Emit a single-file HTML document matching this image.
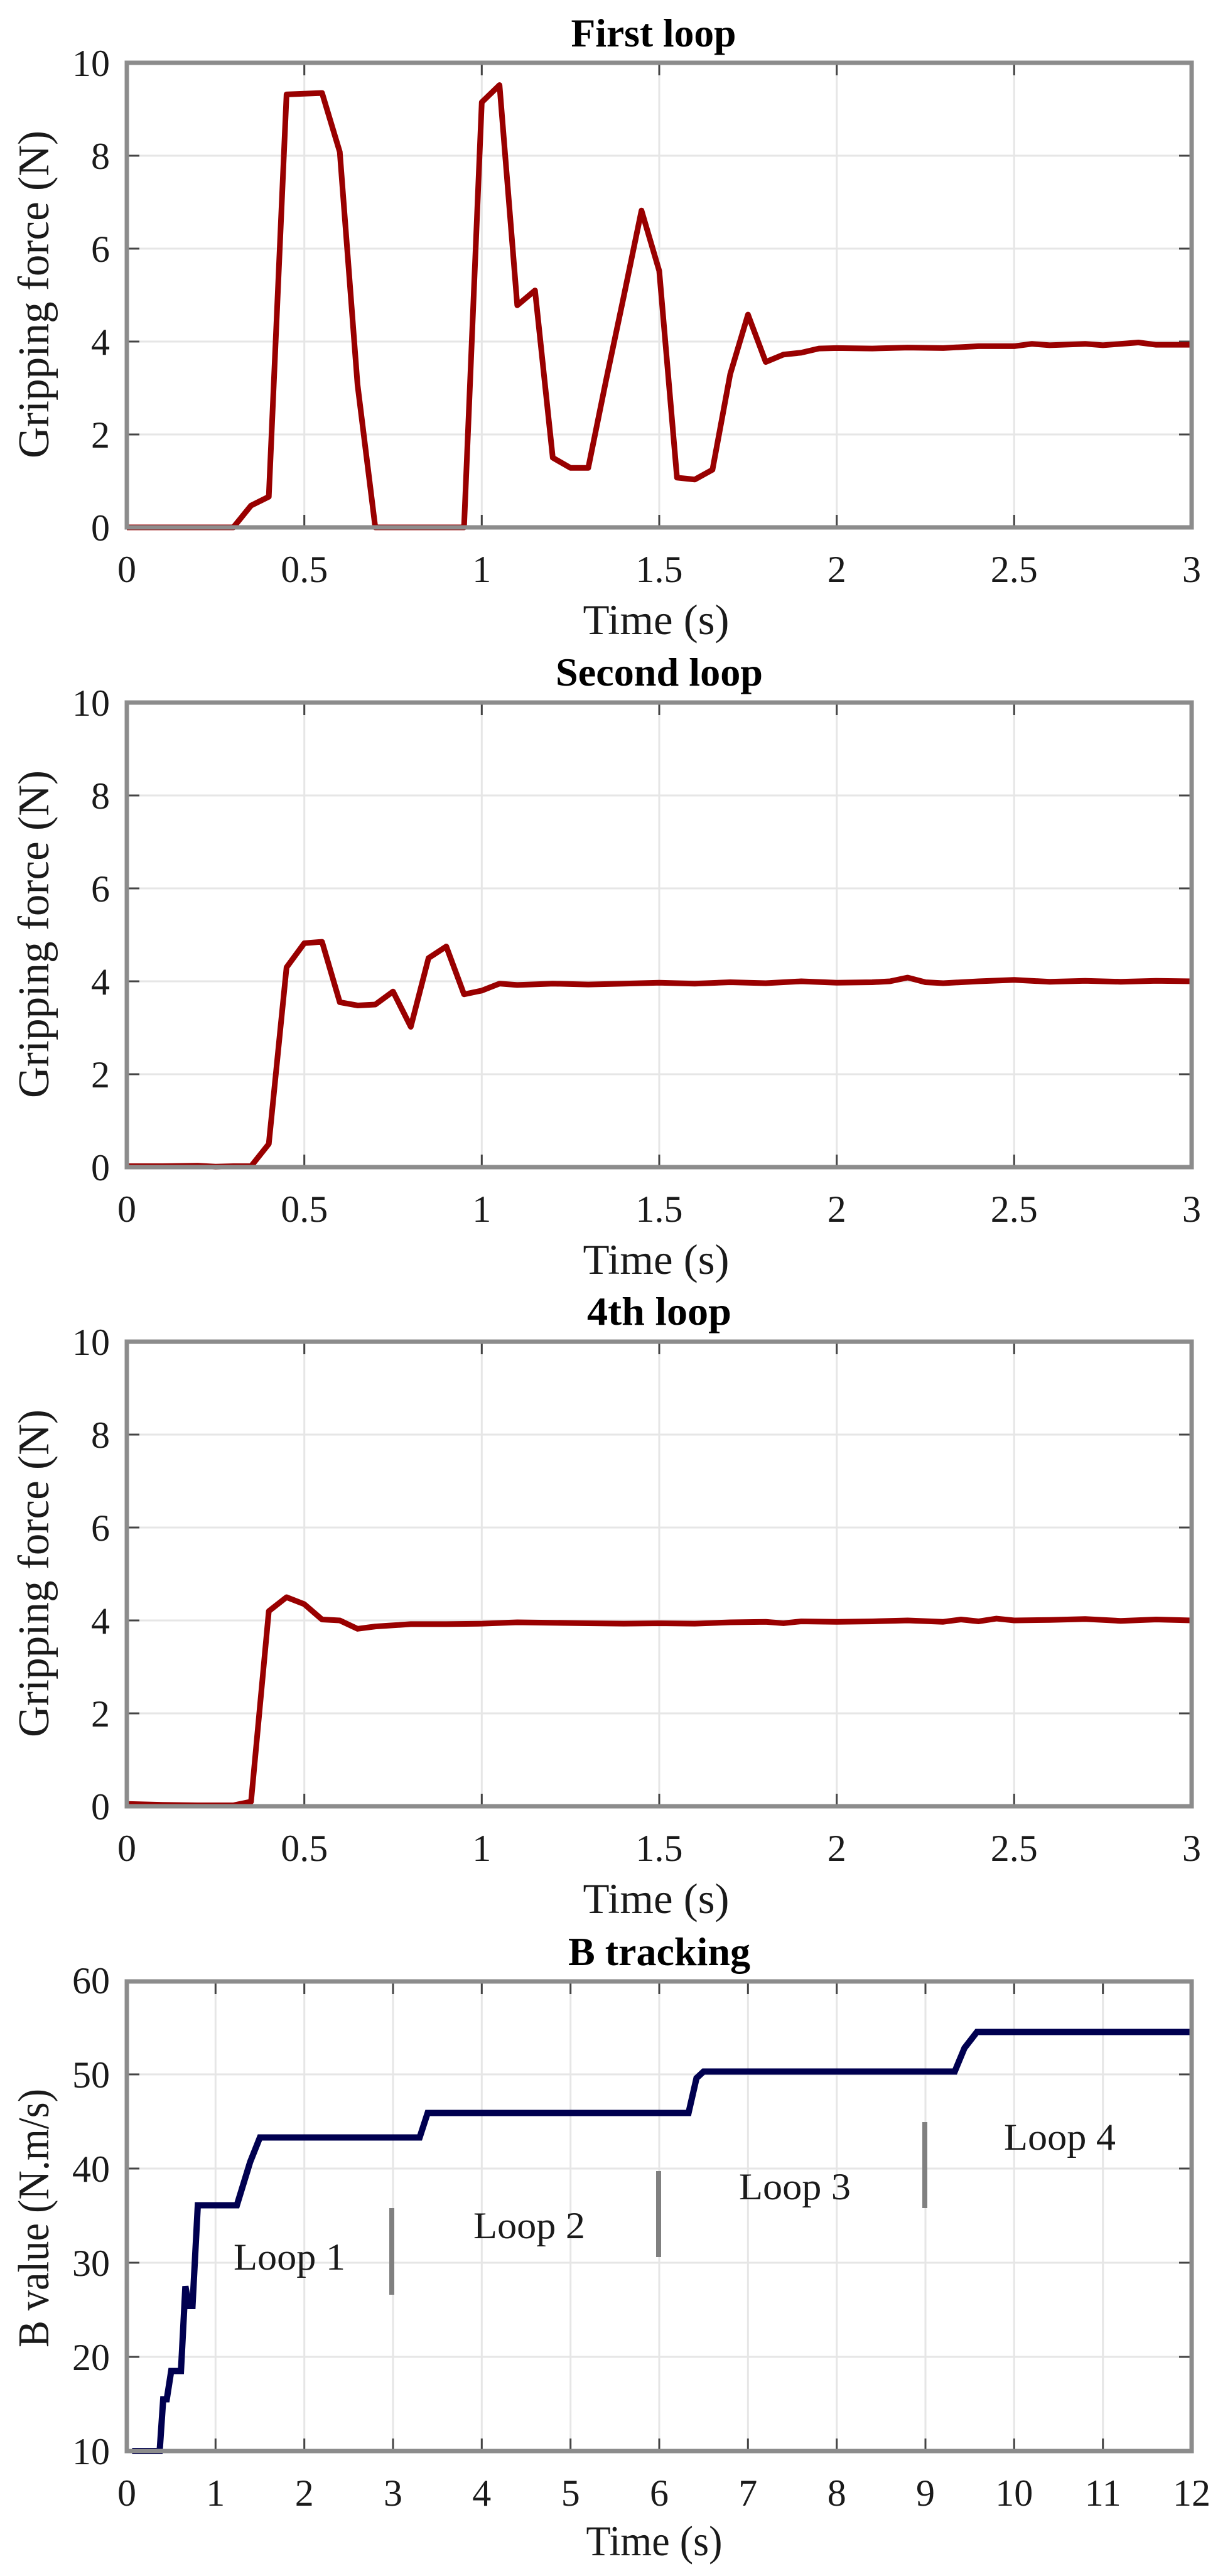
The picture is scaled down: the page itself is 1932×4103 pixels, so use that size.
<!DOCTYPE html>
<html><head><meta charset="utf-8">
<style>
html,body{margin:0;padding:0;background:#fff;}
svg{display:block;}
text{font-family:"Liberation Serif",serif;fill:#1a1a1a;}
.tk{font-size:60px;}
.ttl{font-size:64px;font-weight:bold;fill:#000;}
.lb{font-size:68px;}
.yl{font-size:70px;}
.grid{stroke:#e6e6e6;stroke-width:3;}
.frame{fill:none;stroke:#8c8c8c;stroke-width:7;}
.tick{stroke:#444;stroke-width:3;}
.red{fill:none;stroke:#990000;stroke-width:9;stroke-linejoin:round;}
.blue{fill:none;stroke:#000050;stroke-width:10;stroke-linejoin:miter;}
</style></head>
<body>
<svg width="1932" height="4103" viewBox="0 0 1932 4103" xmlns="http://www.w3.org/2000/svg">

<!-- ============ PANEL 1 ============ -->
<g>
<g class="grid">
<line x1="484.7" y1="100" x2="484.7" y2="840"/><line x1="767.3" y1="100" x2="767.3" y2="840"/><line x1="1050" y1="100" x2="1050" y2="840"/><line x1="1332.7" y1="100" x2="1332.7" y2="840"/><line x1="1615.3" y1="100" x2="1615.3" y2="840"/>
<line x1="202" y1="692" x2="1898" y2="692"/><line x1="202" y1="544" x2="1898" y2="544"/><line x1="202" y1="396" x2="1898" y2="396"/><line x1="202" y1="248" x2="1898" y2="248"/>
</g>
<g class="tick">
<line x1="484.7" y1="840" x2="484.7" y2="820"/><line x1="767.3" y1="840" x2="767.3" y2="820"/><line x1="1050" y1="840" x2="1050" y2="820"/><line x1="1332.7" y1="840" x2="1332.7" y2="820"/><line x1="1615.3" y1="840" x2="1615.3" y2="820"/>
<line x1="484.7" y1="100" x2="484.7" y2="120"/><line x1="767.3" y1="100" x2="767.3" y2="120"/><line x1="1050" y1="100" x2="1050" y2="120"/><line x1="1332.7" y1="100" x2="1332.7" y2="120"/><line x1="1615.3" y1="100" x2="1615.3" y2="120"/>
<line x1="202" y1="692" x2="222" y2="692"/><line x1="202" y1="544" x2="222" y2="544"/><line x1="202" y1="396" x2="222" y2="396"/><line x1="202" y1="248" x2="222" y2="248"/>
<line x1="1898" y1="692" x2="1878" y2="692"/><line x1="1898" y1="544" x2="1878" y2="544"/><line x1="1898" y1="396" x2="1878" y2="396"/><line x1="1898" y1="248" x2="1878" y2="248"/>
</g>
<g transform="translate(202,840) scale(565.333,-74)">
<polyline class="red" vector-effect="non-scaling-stroke" points="0,0 0.30,0 0.35,0.47 0.40,0.66 0.45,9.32 0.55,9.35 0.60,8.08 0.65,3.07 0.70,0 0.95,0 1.0,9.15 1.05,9.52 1.1,4.78 1.15,5.1 1.2,1.5 1.25,1.28 1.3,1.28 1.35,3.16 1.4,4.97 1.45,6.82 1.5,5.52 1.55,1.07 1.6,1.03 1.65,1.24 1.7,3.3 1.75,4.58 1.8,3.56 1.85,3.72 1.9,3.76 1.95,3.85 2.0,3.86 2.1,3.85 2.2,3.87 2.3,3.86 2.4,3.9 2.5,3.9 2.55,3.95 2.6,3.92 2.7,3.95 2.75,3.92 2.85,3.98 2.9,3.93 3.0,3.93"/>
</g>
<rect class="frame" x="202" y="100" width="1696" height="740"/>
<text class="ttl" x="1041" y="74" text-anchor="middle" textLength="263" lengthAdjust="spacingAndGlyphs">First loop</text>
<g class="tk" text-anchor="end">
<text x="175" y="861">0</text><text x="175" y="713">2</text><text x="175" y="565">4</text><text x="175" y="417">6</text><text x="175" y="269">8</text><text x="175" y="121">10</text>
</g>
<g class="tk" text-anchor="middle">
<text x="202" y="927">0</text><text x="484.7" y="927">0.5</text><text x="767.3" y="927">1</text><text x="1050" y="927">1.5</text><text x="1332.7" y="927">2</text><text x="1615.3" y="927">2.5</text><text x="1898" y="927">3</text>
</g>
<text class="lb" x="1045" y="1010" text-anchor="middle" textLength="233" lengthAdjust="spacingAndGlyphs">Time (s)</text>
<text class="yl" transform="translate(77,469) rotate(-90)" text-anchor="middle" textLength="522" lengthAdjust="spacingAndGlyphs">Gripping force (N)</text>
</g>

<!-- ============ PANEL 2 ============ -->
<g>
<g class="grid">
<line x1="484.7" y1="1119" x2="484.7" y2="1859"/><line x1="767.3" y1="1119" x2="767.3" y2="1859"/><line x1="1050" y1="1119" x2="1050" y2="1859"/><line x1="1332.7" y1="1119" x2="1332.7" y2="1859"/><line x1="1615.3" y1="1119" x2="1615.3" y2="1859"/>
<line x1="202" y1="1711" x2="1898" y2="1711"/><line x1="202" y1="1563" x2="1898" y2="1563"/><line x1="202" y1="1415" x2="1898" y2="1415"/><line x1="202" y1="1267" x2="1898" y2="1267"/>
</g>
<g class="tick">
<line x1="484.7" y1="1859" x2="484.7" y2="1839"/><line x1="767.3" y1="1859" x2="767.3" y2="1839"/><line x1="1050" y1="1859" x2="1050" y2="1839"/><line x1="1332.7" y1="1859" x2="1332.7" y2="1839"/><line x1="1615.3" y1="1859" x2="1615.3" y2="1839"/>
<line x1="484.7" y1="1119" x2="484.7" y2="1139"/><line x1="767.3" y1="1119" x2="767.3" y2="1139"/><line x1="1050" y1="1119" x2="1050" y2="1139"/><line x1="1332.7" y1="1119" x2="1332.7" y2="1139"/><line x1="1615.3" y1="1119" x2="1615.3" y2="1139"/>
<line x1="202" y1="1711" x2="222" y2="1711"/><line x1="202" y1="1563" x2="222" y2="1563"/><line x1="202" y1="1415" x2="222" y2="1415"/><line x1="202" y1="1267" x2="222" y2="1267"/>
<line x1="1898" y1="1711" x2="1878" y2="1711"/><line x1="1898" y1="1563" x2="1878" y2="1563"/><line x1="1898" y1="1415" x2="1878" y2="1415"/><line x1="1898" y1="1267" x2="1878" y2="1267"/>
</g>
<g transform="translate(202,1859) scale(565.333,-74)">
<polyline class="red" vector-effect="non-scaling-stroke" points="0,0.02 0.1,0.02 0.2,0.03 0.25,0.01 0.3,0.02 0.35,0.02 0.40,0.5 0.45,4.3 0.5,4.82 0.55,4.85 0.6,3.55 0.65,3.48 0.7,3.5 0.75,3.78 0.8,3.02 0.85,4.5 0.9,4.75 0.95,3.72 1.0,3.8 1.05,3.95 1.1,3.92 1.2,3.95 1.3,3.93 1.4,3.95 1.5,3.97 1.6,3.95 1.7,3.98 1.8,3.96 1.9,4.0 2.0,3.97 2.1,3.98 2.15,4.0 2.2,4.08 2.25,3.98 2.3,3.96 2.4,4.0 2.5,4.03 2.6,3.99 2.7,4.01 2.8,3.99 2.9,4.01 3.0,4.0"/>
</g>
<rect class="frame" x="202" y="1119" width="1696" height="740"/>
<text class="ttl" x="1050" y="1092" text-anchor="middle" textLength="330" lengthAdjust="spacingAndGlyphs">Second loop</text>
<g class="tk" text-anchor="end">
<text x="175" y="1880">0</text><text x="175" y="1732">2</text><text x="175" y="1584">4</text><text x="175" y="1436">6</text><text x="175" y="1288">8</text><text x="175" y="1140">10</text>
</g>
<g class="tk" text-anchor="middle">
<text x="202" y="1946">0</text><text x="484.7" y="1946">0.5</text><text x="767.3" y="1946">1</text><text x="1050" y="1946">1.5</text><text x="1332.7" y="1946">2</text><text x="1615.3" y="1946">2.5</text><text x="1898" y="1946">3</text>
</g>
<text class="lb" x="1045" y="2029" text-anchor="middle" textLength="233" lengthAdjust="spacingAndGlyphs">Time (s)</text>
<text class="yl" transform="translate(77,1488) rotate(-90)" text-anchor="middle" textLength="522" lengthAdjust="spacingAndGlyphs">Gripping force (N)</text>
</g>

<!-- ============ PANEL 3 ============ -->
<g>
<g class="grid">
<line x1="484.7" y1="2137" x2="484.7" y2="2877"/><line x1="767.3" y1="2137" x2="767.3" y2="2877"/><line x1="1050" y1="2137" x2="1050" y2="2877"/><line x1="1332.7" y1="2137" x2="1332.7" y2="2877"/><line x1="1615.3" y1="2137" x2="1615.3" y2="2877"/>
<line x1="202" y1="2729" x2="1898" y2="2729"/><line x1="202" y1="2581" x2="1898" y2="2581"/><line x1="202" y1="2433" x2="1898" y2="2433"/><line x1="202" y1="2285" x2="1898" y2="2285"/>
</g>
<g class="tick">
<line x1="484.7" y1="2877" x2="484.7" y2="2857"/><line x1="767.3" y1="2877" x2="767.3" y2="2857"/><line x1="1050" y1="2877" x2="1050" y2="2857"/><line x1="1332.7" y1="2877" x2="1332.7" y2="2857"/><line x1="1615.3" y1="2877" x2="1615.3" y2="2857"/>
<line x1="484.7" y1="2137" x2="484.7" y2="2157"/><line x1="767.3" y1="2137" x2="767.3" y2="2157"/><line x1="1050" y1="2137" x2="1050" y2="2157"/><line x1="1332.7" y1="2137" x2="1332.7" y2="2157"/><line x1="1615.3" y1="2137" x2="1615.3" y2="2157"/>
<line x1="202" y1="2729" x2="222" y2="2729"/><line x1="202" y1="2581" x2="222" y2="2581"/><line x1="202" y1="2433" x2="222" y2="2433"/><line x1="202" y1="2285" x2="222" y2="2285"/>
<line x1="1898" y1="2729" x2="1878" y2="2729"/><line x1="1898" y1="2581" x2="1878" y2="2581"/><line x1="1898" y1="2433" x2="1878" y2="2433"/><line x1="1898" y1="2285" x2="1878" y2="2285"/>
</g>
<g transform="translate(202,2877) scale(565.333,-74)">
<polyline class="red" vector-effect="non-scaling-stroke" points="0,0.05 0.1,0.03 0.2,0.02 0.3,0.02 0.35,0.1 0.40,4.2 0.45,4.5 0.5,4.35 0.55,4.02 0.6,4.0 0.65,3.82 0.7,3.87 0.8,3.92 0.9,3.92 1.0,3.93 1.1,3.96 1.2,3.95 1.3,3.94 1.4,3.93 1.5,3.94 1.6,3.93 1.7,3.96 1.8,3.97 1.85,3.94 1.9,3.98 2.0,3.97 2.1,3.98 2.2,4.0 2.3,3.97 2.35,4.02 2.4,3.98 2.45,4.04 2.5,4.0 2.6,4.01 2.7,4.03 2.8,3.99 2.9,4.02 3.0,4.0"/>
</g>
<rect class="frame" x="202" y="2137" width="1696" height="740"/>
<text class="ttl" x="1050" y="2110" text-anchor="middle" textLength="230" lengthAdjust="spacingAndGlyphs">4th loop</text>
<g class="tk" text-anchor="end">
<text x="175" y="2898">0</text><text x="175" y="2750">2</text><text x="175" y="2602">4</text><text x="175" y="2454">6</text><text x="175" y="2306">8</text><text x="175" y="2158">10</text>
</g>
<g class="tk" text-anchor="middle">
<text x="202" y="2964">0</text><text x="484.7" y="2964">0.5</text><text x="767.3" y="2964">1</text><text x="1050" y="2964">1.5</text><text x="1332.7" y="2964">2</text><text x="1615.3" y="2964">2.5</text><text x="1898" y="2964">3</text>
</g>
<text class="lb" x="1045" y="3047" text-anchor="middle" textLength="233" lengthAdjust="spacingAndGlyphs">Time (s)</text>
<text class="yl" transform="translate(77,2506) rotate(-90)" text-anchor="middle" textLength="522" lengthAdjust="spacingAndGlyphs">Gripping force (N)</text>
</g>

<!-- ============ PANEL 4 ============ -->
<g>
<g class="grid">
<line x1="343.3" y1="3156" x2="343.3" y2="3904"/><line x1="484.7" y1="3156" x2="484.7" y2="3904"/><line x1="626" y1="3156" x2="626" y2="3904"/><line x1="767.3" y1="3156" x2="767.3" y2="3904"/><line x1="908.7" y1="3156" x2="908.7" y2="3904"/><line x1="1050" y1="3156" x2="1050" y2="3904"/><line x1="1191.3" y1="3156" x2="1191.3" y2="3904"/><line x1="1332.7" y1="3156" x2="1332.7" y2="3904"/><line x1="1474" y1="3156" x2="1474" y2="3904"/><line x1="1615.3" y1="3156" x2="1615.3" y2="3904"/><line x1="1756.7" y1="3156" x2="1756.7" y2="3904"/>
<line x1="202" y1="3754" x2="1898" y2="3754"/><line x1="202" y1="3604" x2="1898" y2="3604"/><line x1="202" y1="3454" x2="1898" y2="3454"/><line x1="202" y1="3304" x2="1898" y2="3304"/>
</g>
<g class="tick">
<line x1="343.3" y1="3904" x2="343.3" y2="3884"/><line x1="484.7" y1="3904" x2="484.7" y2="3884"/><line x1="626" y1="3904" x2="626" y2="3884"/><line x1="767.3" y1="3904" x2="767.3" y2="3884"/><line x1="908.7" y1="3904" x2="908.7" y2="3884"/><line x1="1050" y1="3904" x2="1050" y2="3884"/><line x1="1191.3" y1="3904" x2="1191.3" y2="3884"/><line x1="1332.7" y1="3904" x2="1332.7" y2="3884"/><line x1="1474" y1="3904" x2="1474" y2="3884"/><line x1="1615.3" y1="3904" x2="1615.3" y2="3884"/><line x1="1756.7" y1="3904" x2="1756.7" y2="3884"/>
<line x1="343.3" y1="3156" x2="343.3" y2="3176"/><line x1="484.7" y1="3156" x2="484.7" y2="3176"/><line x1="626" y1="3156" x2="626" y2="3176"/><line x1="767.3" y1="3156" x2="767.3" y2="3176"/><line x1="908.7" y1="3156" x2="908.7" y2="3176"/><line x1="1050" y1="3156" x2="1050" y2="3176"/><line x1="1191.3" y1="3156" x2="1191.3" y2="3176"/><line x1="1332.7" y1="3156" x2="1332.7" y2="3176"/><line x1="1474" y1="3156" x2="1474" y2="3176"/><line x1="1615.3" y1="3156" x2="1615.3" y2="3176"/><line x1="1756.7" y1="3156" x2="1756.7" y2="3176"/>
<line x1="202" y1="3754" x2="222" y2="3754"/><line x1="202" y1="3604" x2="222" y2="3604"/><line x1="202" y1="3454" x2="222" y2="3454"/><line x1="202" y1="3304" x2="222" y2="3304"/>
<line x1="1898" y1="3754" x2="1878" y2="3754"/><line x1="1898" y1="3604" x2="1878" y2="3604"/><line x1="1898" y1="3454" x2="1878" y2="3454"/><line x1="1898" y1="3304" x2="1878" y2="3304"/>
</g>
<g stroke="#808080" stroke-width="8">
<line x1="624" y1="3517" x2="624" y2="3655"/>
<line x1="1049" y1="3458" x2="1049" y2="3595"/>
<line x1="1473" y1="3380" x2="1473" y2="3517"/>
</g>
<g transform="translate(202,3904) scale(141.333,-15) translate(0,-10)">
<polyline class="blue" vector-effect="non-scaling-stroke" points="0.06,10 0.37,10 0.41,15.5 0.45,15.5 0.5,18.5 0.61,18.5 0.66,27.5 0.7,25.4 0.74,25.4 0.8,36.1 1.24,36.1 1.39,40.7 1.5,43.3 3.3,43.3 3.39,45.9 6.33,45.9 6.42,49.6 6.5,50.3 9.33,50.3 9.44,52.8 9.58,54.5 12,54.5"/>
</g>
<rect class="frame" x="202" y="3156" width="1696" height="748"/>
<text class="ttl" x="1050" y="3130" text-anchor="middle" textLength="290" lengthAdjust="spacingAndGlyphs">B tracking</text>
<g class="tk" text-anchor="end">
<text x="175" y="3925">10</text><text x="175" y="3775">20</text><text x="175" y="3625">30</text><text x="175" y="3475">40</text><text x="175" y="3325">50</text><text x="175" y="3175">60</text>
</g>
<g class="tk" text-anchor="middle">
<text x="202" y="3991">0</text><text x="343.3" y="3991">1</text><text x="484.7" y="3991">2</text><text x="626" y="3991">3</text><text x="767.3" y="3991">4</text><text x="908.7" y="3991">5</text><text x="1050" y="3991">6</text><text x="1191.3" y="3991">7</text><text x="1332.7" y="3991">8</text><text x="1474" y="3991">9</text><text x="1615.3" y="3991">10</text><text x="1756.7" y="3991">11</text><text x="1898" y="3991">12</text>
</g>
<g class="tk" text-anchor="middle">
<text x="461" y="3615" textLength="178" lengthAdjust="spacingAndGlyphs">Loop 1</text>
<text x="843" y="3565" textLength="178" lengthAdjust="spacingAndGlyphs">Loop 2</text>
<text x="1266" y="3503" textLength="178" lengthAdjust="spacingAndGlyphs">Loop 3</text>
<text x="1688" y="3424" textLength="178" lengthAdjust="spacingAndGlyphs">Loop 4</text>
</g>
<text class="lb" x="1042" y="4070" text-anchor="middle" textLength="217" lengthAdjust="spacingAndGlyphs">Time (s)</text>
<text class="yl" transform="translate(77,3533) rotate(-90)" text-anchor="middle" textLength="412" lengthAdjust="spacingAndGlyphs">B value (N.m/s)</text>
</g>

</svg>
</body></html>
